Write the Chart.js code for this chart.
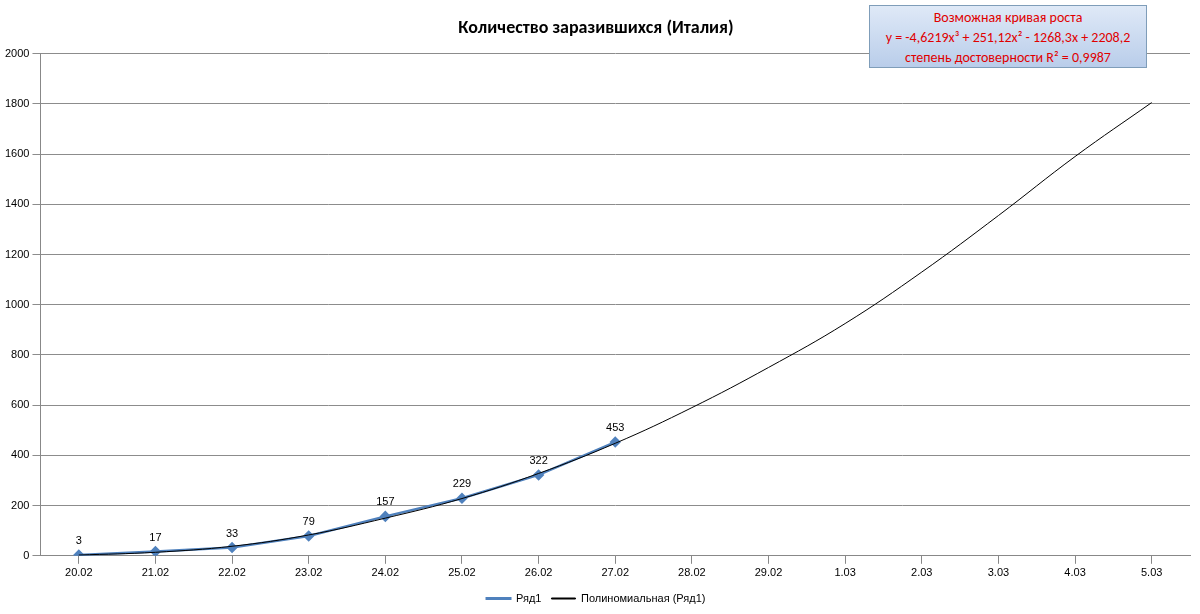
<!DOCTYPE html>
<html>
<head>
<meta charset="utf-8">
<script src="https://cdn.jsdelivr.net/npm/chart.js@4/dist/chart.umd.min.js"></script>
<style>
  html, body { margin: 0; background: #fff; }
  #wrap { position: relative; width: 1200px; height: 614px; }
  #eq {
    position: absolute; left: 869px; top: 5px; width: 278px; height: 63px;
    border: 1px solid #7f9db9; box-sizing: border-box;
    background: linear-gradient(#dfe9f7, #b9cdea);
    color: #e00000; font: 14px Calibri, "Liberation Sans", Arial, sans-serif;
    text-align: center; line-height: 20px; padding-top: 2px;
  }
</style>
</head>
<body>
<div id="wrap">
  <canvas id="c" width="1200" height="614"></canvas>
  <div id="eq">Возможная кривая роста<br>y = -4,6219x³ + 251,12x² - 1268,3x + 2208,2<br>степень достоверности R² = 0,9987</div>
</div>
<script>
  const labels = ['20.02', '21.02', '22.02', '23.02', '24.02', '25.02', '26.02', '27.02',
    '28.02', '29.02', '1.03', '2.03', '3.03', '4.03', '5.03'];
  const cases = [3, 17, 33, 79, 157, 229, 322, 453];
  const trend = [3, 14, 38, 83, 150, 228, 328, 448, 590, 750, 925, 1130, 1355, 1590, 1805];

  // Подписи значений над точками ряда
  const pointLabels = {
    id: 'pointLabels',
    afterDatasetsDraw(chart) {
      const ctx = chart.ctx;
      const meta = chart.getDatasetMeta(0);
      ctx.save();
      ctx.font = '11px "Liberation Sans", Arial, sans-serif';
      ctx.fillStyle = '#000';
      ctx.textAlign = 'center';
      meta.data.forEach((p, i) => ctx.fillText(cases[i], p.x, p.y - 14));
      ctx.restore();
    }
  };

  new Chart(document.getElementById('c'), {
    type: 'line',
    data: {
      labels,
      datasets: [
        {
          label: 'Ряд1', data: cases, borderColor: '#4f81bd', backgroundColor: '#4f81bd',
          borderWidth: 2.5, pointStyle: 'rectRot', pointRadius: 4, tension: 0, order: 1
        },
        {
          label: 'Полиномиальная (Ряд1)', data: trend, borderColor: '#000', backgroundColor: '#000',
          borderWidth: 1, pointRadius: 0, tension: 0.4, order: 0
        }
      ]
    },
    options: {
      responsive: false, animation: false,
      layout: { padding: { left: 2, right: 10, top: 6, bottom: 0 } },
      plugins: {
        title: {
          display: true, text: 'Количество заразившихся (Италия)', color: '#000',
          font: { size: 18, weight: 'bold', family: 'Calibri, "Liberation Sans", Arial' },
          padding: { top: 12, bottom: 14 }
        },
        legend: {
          position: 'bottom',
          labels: {
            color: '#000', font: { size: 11 }, boxWidth: 24, boxHeight: 1,
            generateLabels: (chart) => chart.data.datasets.map((d, i) => ({
              text: d.label, fillStyle: d.borderColor, strokeStyle: d.borderColor,
              lineWidth: i === 0 ? 2 : 1, datasetIndex: i
            }))
          }
        },
        tooltip: { enabled: false }
      },
      scales: {
        x: {
          offset: true,
          grid: { drawOnChartArea: false, color: '#888' },
          border: { color: '#888' },
          ticks: { color: '#000', font: { size: 11 } }
        },
        y: {
          min: 0, max: 2000,
          ticks: { stepSize: 200, color: '#000', font: { size: 11 }, callback: (v) => String(v) },
          grid: { color: '#8c8c8c' },
          border: { color: '#888' }
        }
      }
    },
    plugins: [pointLabels]
  });
</script>
</body>
</html>
